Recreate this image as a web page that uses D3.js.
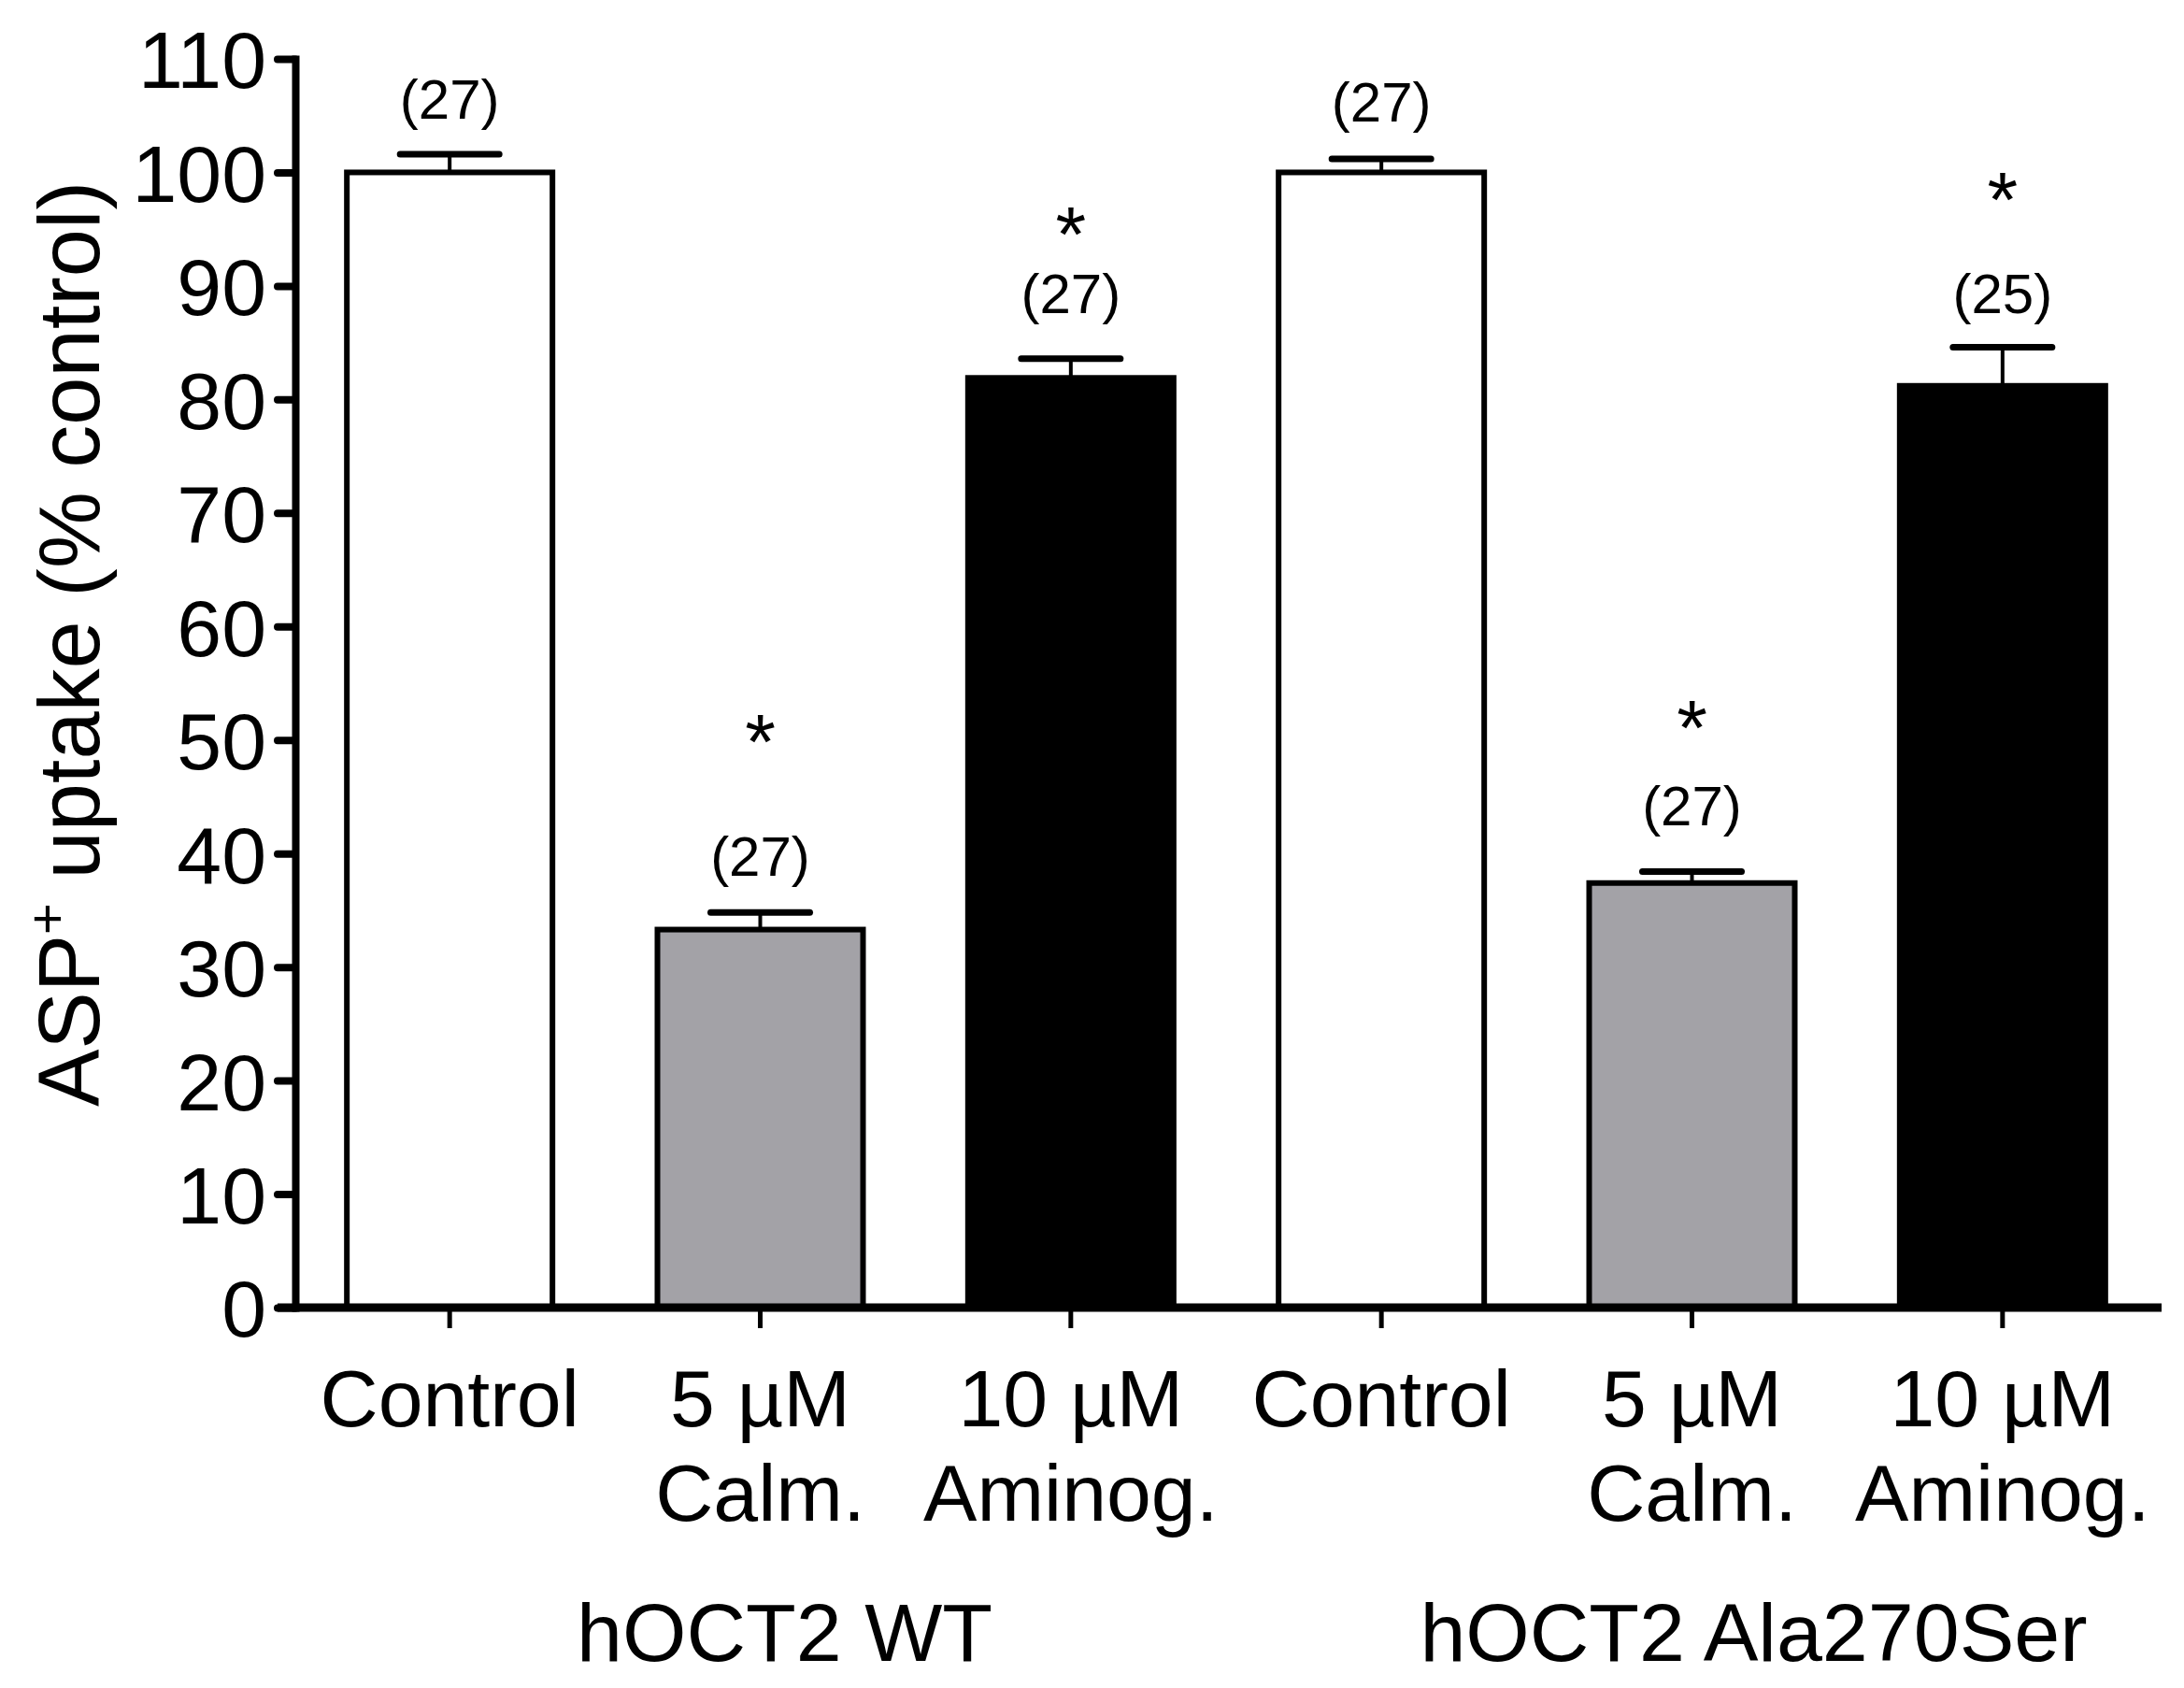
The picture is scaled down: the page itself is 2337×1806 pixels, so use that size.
<!DOCTYPE html>
<html>
<head>
    <meta charset="utf-8">
    <script type="text/javascript" src="https://cdn.jsdelivr.net/npm/d3@7"></script>
    <style>
        body { margin: 0; background: #fff; }
        text { font-family: "Liberation Sans", Arial, sans-serif; fill: #000; }
    </style>
</head>
<body>
    <div id="viz"></div>
    <script type="text/javascript">

    // data (% of control, mean + SEM)
    var categories = ["c1", "calm1", "amino1", "c2", "calm2", "amino2"];
    var catLines = [["Control"], ["5 \u00B5M", "Calm."], ["10 \u00B5M", "Aminog."],
                    ["Control"], ["5 \u00B5M", "Calm."], ["10 \u00B5M", "Aminog."]];
    var means = [100, 33.3, 81.9, 100, 37.4, 81.2];
    var sems = [1.6, 1.5, 1.7, 1.2, 1.0, 3.4];
    var fills = ["#ffffff", "#a3a2a7", "#000000", "#ffffff", "#a3a2a7", "#000000"];
    var nLabels = ["(27)", "(27)", "(27)", "(27)", "(27)", "(25)"];
    var nLabelAt = [104.7, 38.0, 87.6, 104.5, 42.5, 87.6];   // baseline, in axis units
    var starAt = [null, 47.4, 92.1, null, 48.7, 95.2];        // baseline, in axis units
    var groups = [{name: "hOCT2 WT", from: "c1", to: "amino1"},
                  {name: "hOCT2 Ala270Ser", from: "c2", to: "amino2"}];
    var yTicks = [0, 10, 20, 30, 40, 50, 60, 70, 80, 90, 100, 110];

    var W = 2337, H = 1806;

    var svg = d3.select("#viz").append("svg")
        .attr("width", W)
        .attr("height", H);

    var x = d3.scaleBand()
        .domain(categories)
        .range([315, 2309])
        .paddingInner(0.338)
        .paddingOuter(0.169);

    var y = d3.scaleLinear()
        .domain([0, 110])
        .range([1399, 63]);

    var axisX = 316;
    var tickLen = 19;

    // bars
    svg.selectAll("rect.bar")
        .data(categories)
        .enter().append("rect")
        .attr("class", "bar")
        .attr("x", function(d) { return x(d); })
        .attr("width", x.bandwidth())
        .attr("y", function(d, i) { return y(means[i]); })
        .attr("height", function(d, i) { return y(0) - y(means[i]); })
        .style("fill", function(d, i) { return fills[i]; })
        .style("stroke", "#000")
        .style("stroke-width", 6);

    // error bars (upper only), n and significance marks
    categories.forEach(function(c, i) {
        var cx = x(c) + x.bandwidth() / 2;
        var half = x.bandwidth() / 4 - 2;
        svg.append("line")
            .attr("x1", cx).attr("x2", cx)
            .attr("y1", y(means[i])).attr("y2", y(means[i] + sems[i]))
            .style("stroke", "#000").style("stroke-width", 4);
        svg.append("line")
            .attr("x1", cx - half).attr("x2", cx + half)
            .attr("y1", y(means[i] + sems[i])).attr("y2", y(means[i] + sems[i]))
            .style("stroke", "#000").style("stroke-width", 7)
            .style("stroke-linecap", "round");

        svg.append("text")
            .attr("x", cx).attr("y", y(nLabelAt[i]))
            .attr("text-anchor", "middle")
            .style("font-size", "60px")
            .text(nLabels[i]);

        if (starAt[i] !== null) {
            svg.append("text")
                .attr("x", cx).attr("y", y(starAt[i]))
                .attr("text-anchor", "middle")
                .style("font-size", "84px")
                .text("*");
        }
    });

    // y axis
    var yAxis = svg.append("g")
        .attr("transform", "translate(" + axisX + ",0)")
        .call(d3.axisLeft(y).tickValues(yTicks).tickSize(tickLen).tickSizeOuter(0).tickPadding(12));
    yAxis.select(".domain")
        .style("stroke", "#000").style("stroke-width", 8).style("stroke-linecap", "square");
    yAxis.selectAll(".tick line")
        .style("stroke", "#000").style("stroke-width", 8).style("stroke-linecap", "round");
    yAxis.selectAll(".tick text")
        .attr("dy", "0.36em")
        .style("font-size", "86px")
        .style("font-family", "'Liberation Sans', Arial, sans-serif");

    // x axis
    var xAxis = svg.append("g")
        .attr("transform", "translate(0," + y(0) + ")")
        .call(d3.axisBottom(x).tickSize(22).tickSizeOuter(0).tickFormat(""));
    xAxis.select(".domain").remove();
    xAxis.selectAll(".tick line")
        .style("stroke", "#000").style("stroke-width", 5);
    xAxis.append("line")
        .attr("x1", axisX - tickLen).attr("x2", x.range()[1] + 4)
        .attr("y1", 0).attr("y2", 0)
        .style("stroke", "#000").style("stroke-width", 9);

    // category labels, two lines
    categories.forEach(function(c, i) {
        var t = svg.append("text")
            .attr("x", x(c) + x.bandwidth() / 2)
            .attr("y", y(0) + 127)
            .attr("text-anchor", "middle")
            .style("font-size", "86px");
        catLines[i].forEach(function(s, k) {
            t.append("tspan")
                .attr("x", x(c) + x.bandwidth() / 2)
                .attr("dy", k === 0 ? 0 : 101)
                .text(s);
        });
    });

    // group labels (sit a bit right of the group centre in the original)
    var groupShift = [26, 66];
    groups.forEach(function(g, i) {
        var mid = (x(g.from) + x(g.to) + x.bandwidth()) / 2;
        svg.append("text")
            .attr("x", mid + groupShift[i])
            .attr("y", y(0) + 378)
            .attr("text-anchor", "middle")
            .style("font-size", "88px")
            .text(g.name);
    });

    // y axis title
    var title = svg.append("text")
        .attr("transform", "translate(106,1184) rotate(-90)")
        .attr("text-anchor", "start")
        .style("font-size", "92px");
    title.append("tspan").text("ASP");
    title.append("tspan").attr("dy", -36).style("font-size", "58px").text("+");
    title.append("tspan").attr("dy", 36).text(" uptake (% control)");

    </script>
</body>
</html>
